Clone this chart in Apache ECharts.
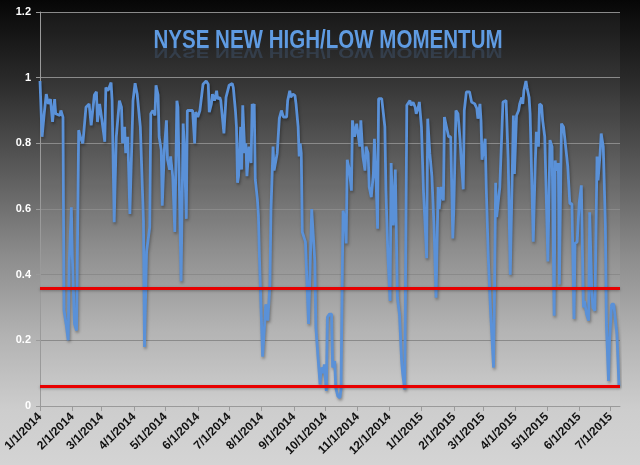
<!DOCTYPE html>
<html>
<head>
<meta charset="utf-8">
<script src="https://cdn.jsdelivr.net/npm/echarts@6/dist/echarts.min.js"></script>
<style>
html,body{margin:0;padding:0;}
#c{width:640px;height:465px;background:linear-gradient(to bottom,#060606 0%,#2c2c2c 18%,#5e5e5e 38%,#8c8c8c 55%,#b2b2b2 72%,#cdcdcd 88%,#d4d4d4 100%);}
</style>
</head>
<body>
<div id="c"></div>
<script>
const chartTitle = 'NYSE NEW HIGH/LOW MOMENTUM';
const yTicks = [0, 0.2, 0.4, 0.6, 0.8, 1, 1.2];
const xStart = '2014-01-01';
const xEnd = '2015-07-10';
const upperLevel = 0.357;
const lowerLevel = 0.062;

const dates = [
'2014-01-01','2014-01-03','2014-01-05','2014-01-07','2014-01-09','2014-01-11','2014-01-13','2014-01-15','2014-01-16','2014-01-20',
'2014-01-21','2014-01-23','2014-01-24','2014-01-26','2014-01-28','2014-01-29','2014-01-31','2014-02-01','2014-02-03','2014-02-05',
'2014-02-07','2014-02-09','2014-02-11','2014-02-14','2014-02-17','2014-02-19','2014-02-22','2014-02-24','2014-02-25','2014-02-27',
'2014-02-28','2014-03-04','2014-03-05','2014-03-07','2014-03-10','2014-03-11','2014-03-13','2014-03-15','2014-03-18','2014-03-20',
'2014-03-21','2014-03-23','2014-03-24','2014-03-26','2014-03-28','2014-03-31','2014-04-02','2014-04-04','2014-04-07','2014-04-10',
'2014-04-11','2014-04-13','2014-04-16','2014-04-17','2014-04-19','2014-04-21','2014-04-22','2014-04-24','2014-04-25','2014-04-27',
'2014-04-28','2014-04-30','2014-05-02','2014-05-03','2014-05-05','2014-05-06','2014-05-08','2014-05-10','2014-05-12','2014-05-13',
'2014-05-16','2014-05-18','2014-05-19','2014-05-21','2014-05-22','2014-05-24','2014-05-27','2014-05-29','2014-05-30','2014-06-01',
'2014-06-03','2014-06-06','2014-06-09','2014-06-11','2014-06-12','2014-06-14','2014-06-15','2014-06-17','2014-06-19','2014-06-20',
'2014-06-22','2014-06-23','2014-06-26','2014-06-28','2014-07-01','2014-07-04','2014-07-05','2014-07-07','2014-07-08','2014-07-09',
'2014-07-10','2014-07-12','2014-07-13','2014-07-14','2014-07-16','2014-07-17','2014-07-18','2014-07-20','2014-07-22','2014-07-23',
'2014-07-24','2014-07-25','2014-07-26','2014-07-28','2014-07-29','2014-07-30','2014-08-02','2014-08-04','2014-08-05','2014-08-07',
'2014-08-09','2014-08-10','2014-08-12','2014-08-13','2014-08-16','2014-08-18','2014-08-20','2014-08-22','2014-08-25','2014-08-26',
'2014-08-28','2014-08-29','2014-08-31','2014-09-02','2014-09-03','2014-09-05','2014-09-06','2014-09-07','2014-09-08','2014-09-09',
'2014-09-12','2014-09-15','2014-09-18','2014-09-21','2014-09-22','2014-09-24','2014-09-26','2014-09-27','2014-09-29','2014-09-30',
'2014-10-02','2014-10-03','2014-10-05','2014-10-07','2014-10-08','2014-10-10','2014-10-11','2014-10-13','2014-10-15','2014-10-16',
'2014-10-18','2014-10-20','2014-10-21','2014-10-22','2014-10-24','2014-10-26','2014-10-27','2014-10-29','2014-10-31','2014-11-01',
'2014-11-03','2014-11-04','2014-11-06','2014-11-08','2014-11-09','2014-11-11','2014-11-12','2014-11-14','2014-11-16','2014-11-17',
'2014-11-19','2014-11-20','2014-11-21','2014-11-22','2014-11-24','2014-11-25','2014-11-27','2014-11-28','2014-11-30','2014-12-02',
'2014-12-03','2014-12-05','2014-12-07','2014-12-09','2014-12-11','2014-12-13','2014-12-14','2014-12-16','2014-12-18','2014-12-19',
'2014-12-21','2014-12-22','2014-12-24','2014-12-26','2014-12-27','2014-12-29','2014-12-30','2015-01-01','2015-01-03','2015-01-06',
'2015-01-07','2015-01-09','2015-01-11','2015-01-13','2015-01-15','2015-01-17','2015-01-18','2015-01-20','2015-01-22','2015-01-23',
'2015-01-25','2015-01-27','2015-01-29','2015-01-31','2015-02-01','2015-02-03','2015-02-05','2015-02-07','2015-02-08','2015-02-10',
'2015-02-11','2015-02-13','2015-02-16','2015-02-18','2015-02-19','2015-02-21','2015-02-23','2015-02-24','2015-02-26','2015-02-27',
'2015-02-28','2015-03-03','2015-03-04','2015-03-06','2015-03-08','2015-03-11','2015-03-12','2015-03-13','2015-03-14','2015-03-17',
'2015-03-20','2015-03-23','2015-03-25','2015-03-27','2015-03-30','2015-03-31','2015-04-02','2015-04-04','2015-04-05','2015-04-07',
'2015-04-08','2015-04-09','2015-04-11','2015-04-12','2015-04-14','2015-04-15','2015-04-18','2015-04-20','2015-04-21','2015-04-23',
'2015-04-24','2015-04-26','2015-04-27','2015-04-29','2015-05-02','2015-05-04','2015-05-06','2015-05-08','2015-05-09','2015-05-10',
'2015-05-12','2015-05-13','2015-05-15','2015-05-17','2015-05-18','2015-05-20','2015-05-21','2015-05-23','2015-05-25','2015-05-27',
'2015-05-28','2015-05-30','2015-06-01','2015-06-03','2015-06-05','2015-06-06','2015-06-08','2015-06-10','2015-06-11','2015-06-13',
'2015-06-14','2015-06-16','2015-06-18','2015-06-19','2015-06-21','2015-06-22','2015-06-24','2015-06-26','2015-06-27','2015-06-29',
'2015-06-30','2015-07-02','2015-07-04','2015-07-05','2015-07-07','2015-07-08','2015-07-09'
];

const momentum = [
0.99,0.82,0.89,0.95,0.92,0.935,0.865,0.935,0.89,0.885,
0.90,0.88,0.29,0.25,0.20,0.44,0.605,0.45,0.25,0.23,
0.84,0.815,0.80,0.91,0.92,0.855,0.947,0.957,0.865,0.92,
0.90,0.805,0.97,0.96,0.985,0.93,0.56,0.82,0.93,0.91,
0.80,0.85,0.77,0.82,0.585,0.93,0.983,0.95,0.85,0.565,
0.18,0.47,0.545,0.89,0.90,0.885,0.977,0.947,0.82,0.78,
0.61,0.78,0.87,0.75,0.72,0.76,0.70,0.53,0.93,0.91,
0.38,0.86,0.80,0.57,0.90,0.90,0.90,0.80,0.895,0.88,
0.90,0.98,0.99,0.98,0.895,0.92,0.95,0.93,0.96,0.935,
0.94,0.93,0.83,0.94,0.977,0.982,0.97,0.90,0.85,0.68,
0.70,0.85,0.72,0.916,0.77,0.80,0.70,0.79,0.74,0.92,
0.91,0.92,0.69,0.63,0.58,0.45,0.15,0.25,0.31,0.26,
0.37,0.595,0.79,0.717,0.77,0.876,0.90,0.88,0.88,0.93,
0.96,0.94,0.95,0.945,0.92,0.85,0.76,0.80,0.77,0.53,
0.50,0.25,0.60,0.44,0.24,0.15,0.066,0.117,0.10,0.127,
0.046,0.27,0.28,0.28,0.117,0.137,0.056,0.03,0.025,0.05,
0.595,0.565,0.495,0.75,0.72,0.656,0.87,0.82,0.86,0.865,
0.79,0.87,0.76,0.717,0.79,0.77,0.667,0.636,0.707,0.814,
0.646,0.54,0.936,0.94,0.936,0.93,0.85,0.656,0.45,0.32,
0.74,0.55,0.72,0.33,0.28,0.14,0.10,0.05,0.916,0.92,
0.93,0.915,0.925,0.91,0.89,0.91,0.926,0.85,0.65,0.45,
0.875,0.77,0.70,0.55,0.33,0.667,0.60,0.667,0.626,0.88,
0.85,0.82,0.82,0.51,0.60,0.90,0.89,0.81,0.75,0.66,
0.90,0.957,0.957,0.926,0.93,0.92,0.906,0.875,0.92,0.87,
0.75,0.814,0.667,0.45,0.30,0.117,0.37,0.68,0.575,0.667,
0.926,0.93,0.75,0.40,0.885,0.707,0.885,0.90,0.92,0.94,
0.92,0.96,0.99,0.97,0.94,0.89,0.50,0.748,0.835,0.79,
0.92,0.915,0.87,0.82,0.44,0.81,0.79,0.275,0.748,0.717,
0.74,0.37,0.86,0.85,0.82,0.76,0.73,0.616,0.616,0.265,
0.495,0.50,0.62,0.672,0.30,0.32,0.28,0.26,0.59,0.35,
0.30,0.29,0.76,0.687,0.77,0.83,0.79,0.55,0.25,0.076,
0.20,0.31,0.31,0.305,0.22,0.147,0.061
];

const chart = echarts.init(document.getElementById('c'), null, {renderer: 'canvas'});
const titleFont = '"Liberation Sans", Arial, sans-serif';
const DAY = 86400000;

chart.setOption({
  backgroundColor: 'transparent',
  animation: false,
  grid: {left: 40, right: 20, top: 12, bottom: 59, show: true, borderWidth: 0,
         backgroundColor: 'rgba(255,255,255,0.05)'},
  graphic: [
    {type: 'text', x: 328, y: 45, scaleX: 0.79, scaleY: -0.55, z: 10, style: {
      text: chartTitle, fill: 'rgba(100,155,225,0.18)', textAlign: 'center', textVerticalAlign: 'bottom',
      font: 'bold 26px ' + titleFont}},
    {type: 'text', x: 328, y: 28, scaleX: 0.79, z: 10, style: {
      text: chartTitle, textAlign: 'center', textVerticalAlign: 'top',
      font: 'bold 26px ' + titleFont, fill: '#5f9be2'}}
  ],
  xAxis: {
    type: 'time', min: xStart, max: xEnd,
    splitNumber: 19, minInterval: 28 * DAY, maxInterval: 31 * DAY,
    axisLine: {show: true, lineStyle: {color: '#9a9a9a', width: 1}},
    axisTick: {show: true, length: 5, lineStyle: {color: '#9a9a9a'}},
    splitLine: {show: false},
    axisLabel: {rotate: 45, formatter: '{M}/{d}/{yyyy}', color: '#111', fontWeight: 'bold',
      fontSize: 12, fontFamily: 'Liberation Sans, Arial, sans-serif', margin: 9, hideOverlap: false}
  },
  yAxis: {
    type: 'value', min: yTicks[0], max: yTicks[yTicks.length - 1], interval: 0.2,
    axisLine: {show: true, lineStyle: {color: '#9a9a9a'}},
    axisTick: {show: true, length: 4, lineStyle: {color: '#9a9a9a'}},
    splitLine: {show: true, lineStyle: {color: '#8a8a8a', width: 1}},
    axisLabel: {color: '#fff', fontWeight: 'bold', fontSize: 11,
      fontFamily: 'Liberation Sans, Arial, sans-serif', margin: 9}
  },
  series: [{
    type: 'line',
    data: dates.map((d, i) => [d, momentum[i]]),
    showSymbol: false,
    lineStyle: {color: '#5a91d8', width: 2.8, shadowColor: 'rgba(0,0,0,0.35)', shadowBlur: 3, shadowOffsetX: 1, shadowOffsetY: 2},
    itemStyle: {color: '#5a91d8'},
    z: 3,
    markLine: {
      silent: true, symbol: ['none', 'none'], label: {show: false},
      lineStyle: {color: '#e80000', width: 3, type: 'solid', shadowColor: 'rgba(0,0,0,0.3)', shadowBlur: 3, shadowOffsetY: 1},
      data: [{yAxis: upperLevel}, {yAxis: lowerLevel}]
    }
  }]
});
</script>
</body>
</html>
